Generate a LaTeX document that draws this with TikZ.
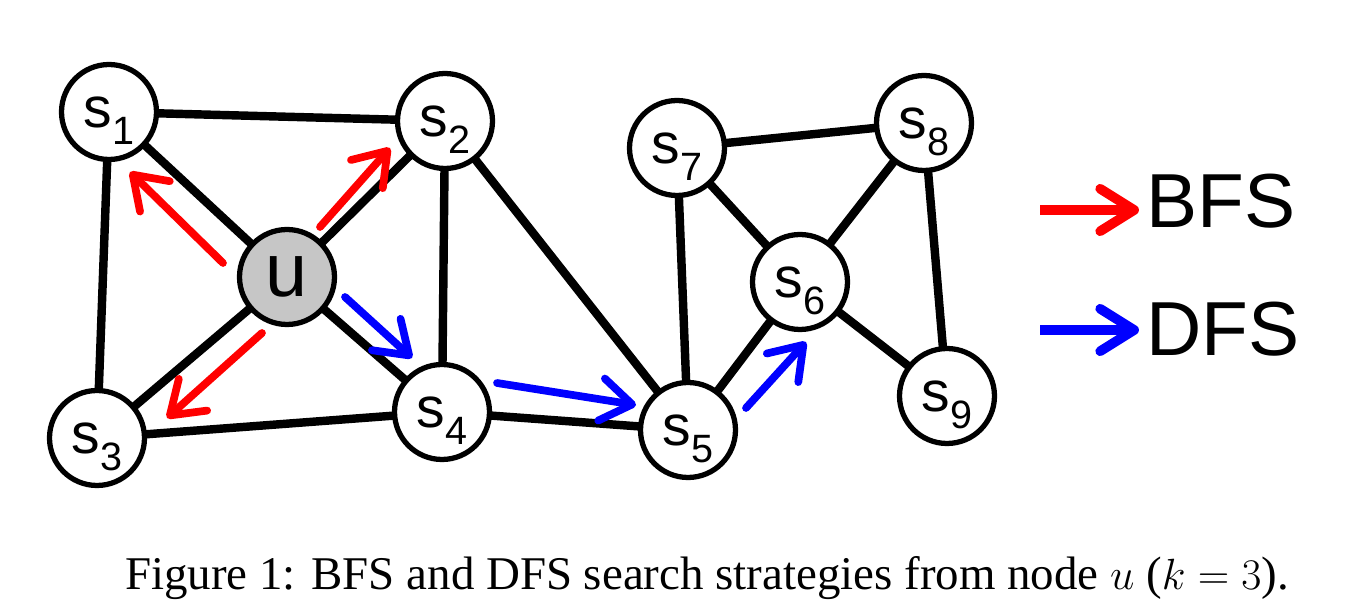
\documentclass[tikz,border=0pt]{standalone}
\usepackage{fontspec}
\setmainfont{Liberation Serif}
\setsansfont{Liberation Sans}
\usepackage{amsmath}
\usepackage{xcolor}
\usetikzlibrary{arrows.meta}

\newcommand{\nsub}[1]{\smash{\raisebox{-0.34cm}{\fontsize{22.5}{22}\selectfont #1}}}

\begin{document}
\begin{tikzpicture}[x=0.02cm, y=-0.02cm,
    vertex/.style={circle, draw=black, fill=white, line width=3pt, minimum size=1.9cm, inner sep=0pt,
                   font=\sffamily\fontsize{32.5}{32}\selectfont},
    edge/.style={line width=4.8pt, black},
    search/.style={line width=4.4pt, line cap=round, -{Straight Barb[length=0.62cm, width=0.85cm, line cap=round, line join=round]}},
    bfs/.style={search, red},
    dfs/.style={search, blue},
    keyarrow/.style={line width=5.5pt, -{Straight Barb[length=0.68cm, width=0.85cm, line cap=round, line join=round]}}]

    \useasboundingbox (0,0) rectangle (1350,614);

    % Draw the edges first
    \coordinate (pu) at (287,277);
    \coordinate (p1) at (109,112);
    \coordinate (p2) at (445,121);
    \coordinate (p3) at (97,438);
    \coordinate (p4) at (442,412);
    \coordinate (p5) at (688,430);
    \coordinate (p6) at (800,282);
    \coordinate (p7) at (677,148);
    \coordinate (p8) at (924,123);
    \coordinate (p9) at (947,396);

    \foreach \a/\b in {p1/p2, p1/pu, p1/p3, pu/p2, pu/p3, pu/p4, p2/p4, p2/p5, p3/p4,
                       p4/p5, p5/p7, p5/p6, p6/p7, p6/p8, p6/p9, p7/p8, p8/p9}
        \draw[edge] (\a) -- (\b);

    % Draw the nodes
    \node[vertex, fill=gray!45] (u) at (pu) {\fontsize{43}{43}\selectfont u};
    \node[vertex] (s1) at (p1) {s\nsub{1}};
    \node[vertex] (s2) at (p2) {s\nsub{2}};
    \node[vertex] (s3) at (p3) {s\nsub{3}};
    \node[vertex] (s4) at (p4) {s\nsub{4}};
    \node[vertex] (s5) at (p5) {s\nsub{5}};
    \node[vertex] (s6) at (p6) {s\nsub{6}};
    \node[vertex] (s7) at (p7) {s\nsub{7}};
    \node[vertex] (s8) at (p8) {s\nsub{8}};
    \node[vertex] (s9) at (p9) {s\nsub{9}};

    % BFS steps out of u
    \coordinate (b1s) at (223,263); \coordinate (b1e) at (130,172);
    \coordinate (b2s) at (320,227); \coordinate (b2e) at (390,148);
    \coordinate (b3s) at (262,333); \coordinate (b3e) at (167,418);
    \draw[bfs] (b1s) -- (b1e);
    \draw[bfs] (b2s) -- (b2e);
    \draw[bfs] (b3s) -- (b3e);

    % DFS walk u -> s4 -> s5 -> s6
    \coordinate (d1s) at (345,297); \coordinate (d1e) at (412,358);
    \coordinate (d2s) at (497,383); \coordinate (d2e) at (636,405);
    \coordinate (d3s) at (746,408); \coordinate (d3e) at (806,342);
    \draw[dfs] (d1s) -- (d1e);
    \draw[dfs] (d2s) -- (d2e);
    \draw[dfs] (d3s) -- (d3e);

    % Legend
    \node[anchor=west, inner sep=0pt, font=\sffamily\fontsize{43.6}{44}\selectfont] (bfsl) at (1146,201) {BFS};
    \node[anchor=west, inner sep=0pt, font=\sffamily\fontsize{43.6}{44}\selectfont] (dfsl) at (1146,329) {DFS};
    \coordinate (lb) at (1040,210);
    \coordinate (ld) at (1040,330);
    \draw[keyarrow, red] (lb) -- ([xshift=-4pt]bfsl.west |- lb);
    \draw[keyarrow, blue] (ld) -- ([xshift=-4pt]dfsl.west |- ld);

    % Caption
    \node[anchor=base, inner sep=0pt, font=\fontsize{26.7}{28}\selectfont] (cap) at (707,590)
        {Figure 1: BFS and DFS search strategies from node $u$ ($k=3$).};

\end{tikzpicture}
\end{document}
